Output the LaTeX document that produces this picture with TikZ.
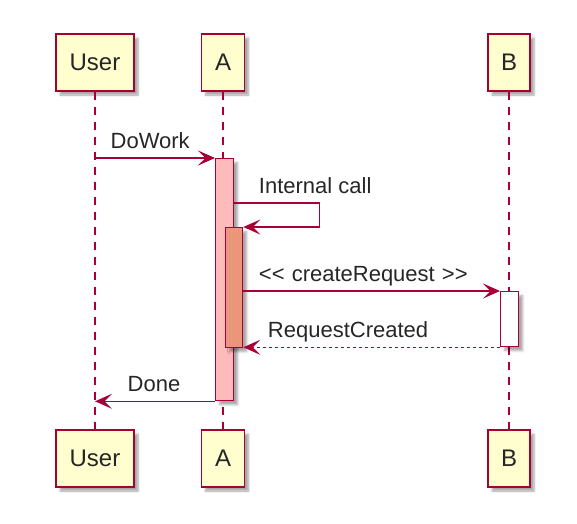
\documentclass[tikz,border=0pt]{standalone}
\usepackage{fontspec}
\setmainfont{Liberation Sans}[Ligatures=NoCommon]
\usetikzlibrary{arrows.meta,shadows.blur}

\definecolor{umlred}{HTML}{A80036}
\definecolor{umlpart}{HTML}{FEFECE}
\definecolor{umlact}{HTML}{FFBBBB}
\definecolor{umlsalmon}{HTML}{E9967A}

\tikzset{
    shade/.style={blur shadow={shadow xshift=4pt, shadow yshift=-4pt, shadow blur steps=6, shadow opacity=35}},
    party/.style={draw=umlred, fill=umlpart, line width=1.5pt, minimum height=57pt, inner sep=0pt, font=\fontsize{24}{28}\selectfont, text=black!85, shade},
    actbar/.style={draw=umlred, line width=1.3pt, inner sep=0pt, anchor=north west, shade},
    lifeline/.style={draw=umlred, line width=1.3pt, dash pattern=on 8pt off 7pt},
    msg/.style={draw=umlred, line width=1.3pt, -{Stealth[length=17pt, width=15pt, inset=7.5pt]}},
    ret/.style={msg, dash pattern=on 3pt off 3pt},
    lbl/.style={font=\fontsize{22}{26}\selectfont, text=black!85, inner sep=0pt, anchor=base west, yshift=10pt}
}

\begin{document}
\begin{tikzpicture}[x=1pt, y=-1pt]
    \useasboundingbox (0,0) rectangle (577,523);
    % participants
    \node[party, minimum width=78pt] (userTop) at (95,62.5) {User};
    \node[party, minimum width=43pt] (aTop) at (223,62.5) {A};
    \node[party, minimum width=42pt] (bTop) at (509,62.5) {B};
    \node[party, minimum width=78pt] (userBot) at (95,458.5) {User};
    \node[party, minimum width=43pt] (aBot) at (223,458.5) {A};
    \node[party, minimum width=42pt] (bBot) at (509,458.5) {B};
    % lifelines
    \draw[lifeline] (userTop) -- (userBot);
    \draw[lifeline] (aTop) -- (aBot);
    \draw[lifeline] (bTop) -- (bBot);
    % activations
    \node[actbar, fill=umlact, minimum width=18pt, minimum height=242pt] (actA) at (215,158) {};
    \node[actbar, fill=umlsalmon, minimum width=17pt, minimum height=120pt] (actAin) at (225,227) {};
    \node[actbar, fill=white, minimum width=18pt, minimum height=55pt] (actB) at (500,291) {};
    % messages
    \draw[msg] (userTop |- actA.north) -- (actA.north west)
        node[lbl, pos=0, xshift=15pt] {DoWork};
    \draw[msg] (actA.north east) ++(0,45) -- ++(85,0)
        node[lbl, pos=0, xshift=24pt] {Internal call} -- ++(0,24) -- (actAin.north east);
    \draw[msg] (actAin.east |- actB.north) -- (actB.north west)
        node[lbl, pos=0, xshift=15pt] {<{}< \hspace{1pt}createRequest\hspace{1pt} >{}>};
    \draw[ret] (actB.south west) -- (actAin.east |- actB.south)
        node[lbl, pos=1, xshift=24pt] {RequestCreated};
    \draw[msg] (actA.south west) -- (userTop |- actA.south)
        node[lbl, pos=1, xshift=32pt] {Done};
\end{tikzpicture}
\end{document}
